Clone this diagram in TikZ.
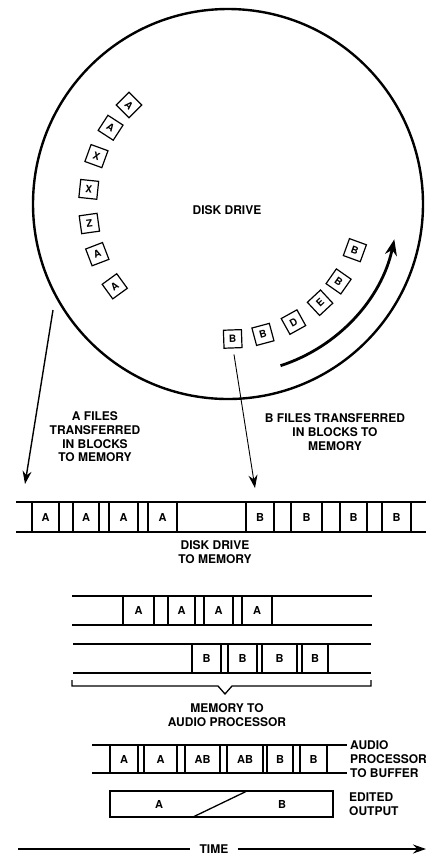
\documentclass[tikz,border=0pt]{standalone}
\usepackage{fontspec}
\setmainfont{TeX Gyre Heros}
\usetikzlibrary{arrows.meta}
\begin{document}
\begin{tikzpicture}[x=1pt,y=-1pt,
  lbl/.style={font=\fontsize{12}{13.7}\selectfont\bfseries, align=center, inner sep=0pt},
  blk/.style={draw, line width=1.2pt, inner sep=0pt, font=\fontsize{11}{12}\selectfont\bfseries},
  bA/.style={blk, minimum height=30pt},
  bB/.style={blk, minimum height=29pt},
  bD/.style={blk, minimum height=28pt},
  tile/.style={draw, line width=1.2pt, minimum size=18pt, inner sep=0pt, font=\fontsize{10}{11}\selectfont\bfseries},
  strip/.style={line width=1.3pt},
  tip/.style={-{Stealth[length=13pt,width=9pt]}}]
\useasboundingbox (0,0) rectangle (426,855);

% disk
\node[draw, circle, line width=2.4pt, minimum size=390pt, inner sep=0pt] (disk) at (228,204) {};
\node[lbl] (dd) at (227,210) {DISK DRIVE};

\begin{scope}[shift={(228,204)}, y=1pt]
  \node[tile, rotate=-45] (a1) at (135:140) {A};
  \node[tile, rotate=-33] (a2) at (147:140) {A};
  \node[tile, rotate=-20] (a3) at (160:140) {X};
  \node[tile, rotate=-6]  (a4) at (174:140) {X};
  \node[tile, rotate=8]   (a5) at (188:140) {Z};
  \node[tile, rotate=21]  (a6) at (201:140) {A};
  \node[tile, rotate=36]  (a7) at (216:140) {A};
  \node[tile, rotate=2]   (b1) at (-88:135) {B};
  \node[tile, rotate=15]  (b2) at (-75:135) {B};
  \node[tile, rotate=29]  (b3) at (-61:135) {D};
  \node[tile, rotate=43]  (b4) at (-47:135) {E};
  \node[tile, rotate=-35] (b5) at (-35:135) {B};
  \node[tile, rotate=-20] (b6) at (-20:135) {B};
  \draw[line width=2.8pt, -{Stealth[length=16pt,width=12pt]}] (-72:170) arc[start angle=-72, end angle=-12, radius=170];
\end{scope}

% transfer arrows
\coordinate (aS) at (53,310);
\coordinate (aE) at (25,484);
\draw[line width=1.4pt, tip] (aS) -- (aE);
\coordinate (bE) at (255,488);
\draw[line width=0.9pt, tip, shorten <=6pt] (b1.south) -- (bE);

\node[lbl] (la) at (95,437) {A FILES\\TRANSFERRED\\IN BLOCKS\\TO MEMORY};
\node[lbl] (lb) at (335,432) {B FILES TRANSFERRED\\IN BLOCKS TO\\MEMORY};

% strip 1: disk drive to memory
\draw[strip] (16,502) -- (426,502) (16,532) -- (426,532);
\node[bA, minimum width=27pt] (s1a) at (45.5,517) {A};
\node[bA, minimum width=26pt] (s1b) at (86,517) {A};
\node[bA, minimum width=29pt] (s1c) at (123.5,517) {A};
\node[bA, minimum width=29pt] (s1d) at (162.5,517) {A};
\node[bA, minimum width=28pt] (s1e) at (260,517) {B};
\node[bA, minimum width=31pt] (s1f) at (306.5,517) {B};
\node[bA, minimum width=27pt] (s1g) at (353.5,517) {B};
\node[bA, minimum width=29pt] (s1h) at (396.5,517) {B};
\node[lbl] (l1) at (215,552) {DISK DRIVE\\TO MEMORY};

% strip 2
\draw[strip] (72,596) -- (372,596) (72,625) -- (372,625);
\node[bB, minimum width=31pt] (s2a) at (138.5,610.5) {A};
\node[bB, minimum width=27pt] (s2b) at (181.5,610.5) {A};
\node[bB, minimum width=29pt] (s2c) at (218.5,610.5) {A};
\node[bB, minimum width=30pt] (s2d) at (257,610.5) {A};

% strip 3
\draw[strip] (73,644) -- (371,644) (73,673) -- (371,673);
\node[bB, minimum width=29pt] (s3a) at (206.5,658.5) {B};
\node[bB, minimum width=29pt] (s3b) at (242.5,658.5) {B};
\node[bB, minimum width=35pt] (s3c) at (279.5,658.5) {B};
\node[bB, minimum width=26pt] (s3d) at (315,658.5) {B};

% brace
\draw[line width=1.3pt] (72,680) -- (72,686) -- (218,686) -- (225,694) -- (232,686) -- (371,686) -- (371,680);
\node[lbl] (l3) at (227,715) {MEMORY TO\\AUDIO PROCESSOR};

% strip 4
\draw[strip] (92,745) -- (347,745) (92,773) -- (347,773);
\node[bD, minimum width=28pt] (s4a) at (124,759) {A};
\node[bD, minimum width=33pt] (s4b) at (160.5,759) {A};
\node[bD, minimum width=35pt] (s4c) at (202.5,759) {AB};
\node[bD, minimum width=36pt] (s4d) at (245,759) {AB};
\node[bD, minimum width=26pt] (s4e) at (280,759) {B};
\node[bD, minimum width=27pt] (s4f) at (313.5,759) {B};
\node[lbl, align=left, anchor=west] (l4) at (350,759) {AUDIO\\PROCESSOR\\TO BUFFER};

% edited output
\node[draw, line width=1.3pt, minimum width=223pt, minimum height=26pt, inner sep=0pt] (ed) at (221.5,804) {};
\draw[line width=1.3pt] (193,817) -- (247,791);
\node[blk, draw=none] (eA) at (159,804) {A};
\node[blk, draw=none] (eB) at (282,804) {B};
\node[lbl, align=left, anchor=west] (l5) at (349,804) {EDITED\\OUTPUT};

% time
\node[lbl, inner xsep=9pt] (time) at (214,849) {TIME};
\coordinate (tl) at (18,849);
\coordinate (tr) at (426,849);
\draw[line width=1.3pt] (tl) -- (time.west);
\draw[line width=1.3pt, tip] (time.east) -- (tr);
\end{tikzpicture}
\end{document}
